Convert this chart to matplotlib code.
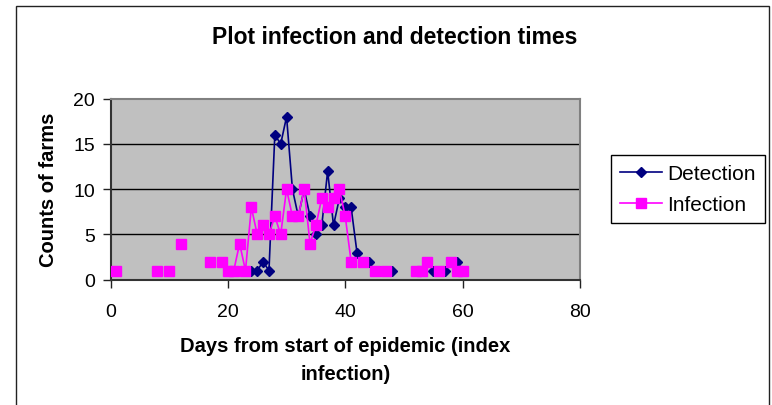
import numpy as np
import pandas as pd
import matplotlib
matplotlib.use("Agg")
import matplotlib.pyplot as plt
from matplotlib.patches import Rectangle

# ----------------------------- data ------------------------------------------
detection_days = [24, 25, 26, 27, 28, 29, 30, 31, 32, 33, 34, 35, 36, 37, 38,
                  39, 40, 41, 42, 44, 46, 48, 53, 55, 57, 59, 60]
detection_counts = [1, 1, 2, 1, 16, 15, 18, 10, 7, 10, 7, 5, 6, 12, 6,
                    9, 8, 8, 3, 2, 1, 1, 1, 1, 1, 2, 1]

infection_days = [1, 8, 10, 12, 17, 19, 20, 21, 22, 23, 24, 25, 26, 27, 28,
                  29, 30, 31, 32, 33, 34, 35, 36, 37, 38, 39, 40, 41, 43,
                  45, 47, 52, 53, 54, 56, 58, 59, 60]
infection_counts = [1, 1, 1, 4, 2, 2, 1, 1, 4, 1, 8, 5, 6, 5, 7,
                    5, 10, 7, 7, 10, 4, 6, 9, 8, 9, 10, 7, 2, 2,
                    1, 1, 1, 1, 2, 1, 2, 1, 1]

x_ticks = [0, 20, 40, 60, 80]
y_ticks = [0, 5, 10, 15, 20]

# ----------------------------- style -----------------------------------------
plt.rcParams['font.family'] = ['Liberation Sans', 'DejaVu Sans']
FIG_W, FIG_H = 772, 406


def daily(days, counts):
    """Per-day series, missing days left empty so the line breaks there."""
    s = pd.Series(counts, index=days, dtype=float)
    return s.reindex(range(min(days), max(days) + 1))


det = daily(detection_days, detection_counts)
inf = daily(infection_days, infection_counts)

fig = plt.figure(figsize=(FIG_W / 100, FIG_H / 100), dpi=100)

# outer chart border (bottom runs off the image)
fig.patches.append(Rectangle((16 / FIG_W, -0.2), (769 - 16) / FIG_W, 1.2 - 7 / FIG_H,
                             transform=fig.transFigure, fill=False,
                             edgecolor='#222222', linewidth=1.0))

ax = fig.add_axes([110.5 / FIG_W, 1 - 280.7 / FIG_H,
                   (580 - 110.5) / FIG_W, (280.7 - 99.7) / FIG_H])
ax.set_facecolor('#C0C0C0')

ax.plot(det.index, det.values, color='#000080', linewidth=1.2,
        marker='D', markersize=5.5, label='Detection', zorder=3)
ax.plot(inf.index, inf.values, color='#FF00FF', linewidth=1.2,
        marker='s', markersize=6.5, label='Infection', zorder=4)

ax.set_xlim(0, 80)
ax.set_ylim(0, 20)
ax.set_xticks(x_ticks)
ax.set_yticks(y_ticks)
ax.tick_params(axis='both', labelsize=14, length=6, width=1.0,
               direction='out', color='#222222')
ax.tick_params(axis='x', pad=11)
ax.tick_params(axis='y', pad=5)

for v in y_ticks[1:-1]:
    ax.axhline(v, color='black', linewidth=1.0, zorder=1)

for side in ('top', 'right'):
    ax.spines[side].set_color('#808080')
    ax.spines[side].set_linewidth(1.5)
for side in ('left', 'bottom'):
    ax.spines[side].set_color('#333333')
    ax.spines[side].set_linewidth(1.5)

ax.set_xlabel('Days from start of epidemic (index\ninfection)',
              fontsize=14.5, fontweight='bold', labelpad=11, linespacing=1.65)
ax.set_ylabel('Counts of farms', fontsize=14.5, fontweight='bold', labelpad=11)

fig.text(395 / FIG_W, 1 - 37 / FIG_H, 'Plot infection and detection times',
         ha='center', va='center', fontsize=16.5, fontweight='bold')

leg = ax.legend(loc='upper left', bbox_to_anchor=(611 / FIG_W, 1 - 156 / FIG_H),
                bbox_transform=fig.transFigure, borderaxespad=0,
                fontsize=15, frameon=True, fancybox=False, shadow=False,
                handlelength=2.0, handletextpad=0.25, borderpad=0.45,
                labelspacing=0.55)
leg.get_frame().set_edgecolor('black')
leg.get_frame().set_linewidth(1.0)
leg.get_frame().set_alpha(None)

fig.savefig('out.png', dpi=100)
plt.close(fig)
